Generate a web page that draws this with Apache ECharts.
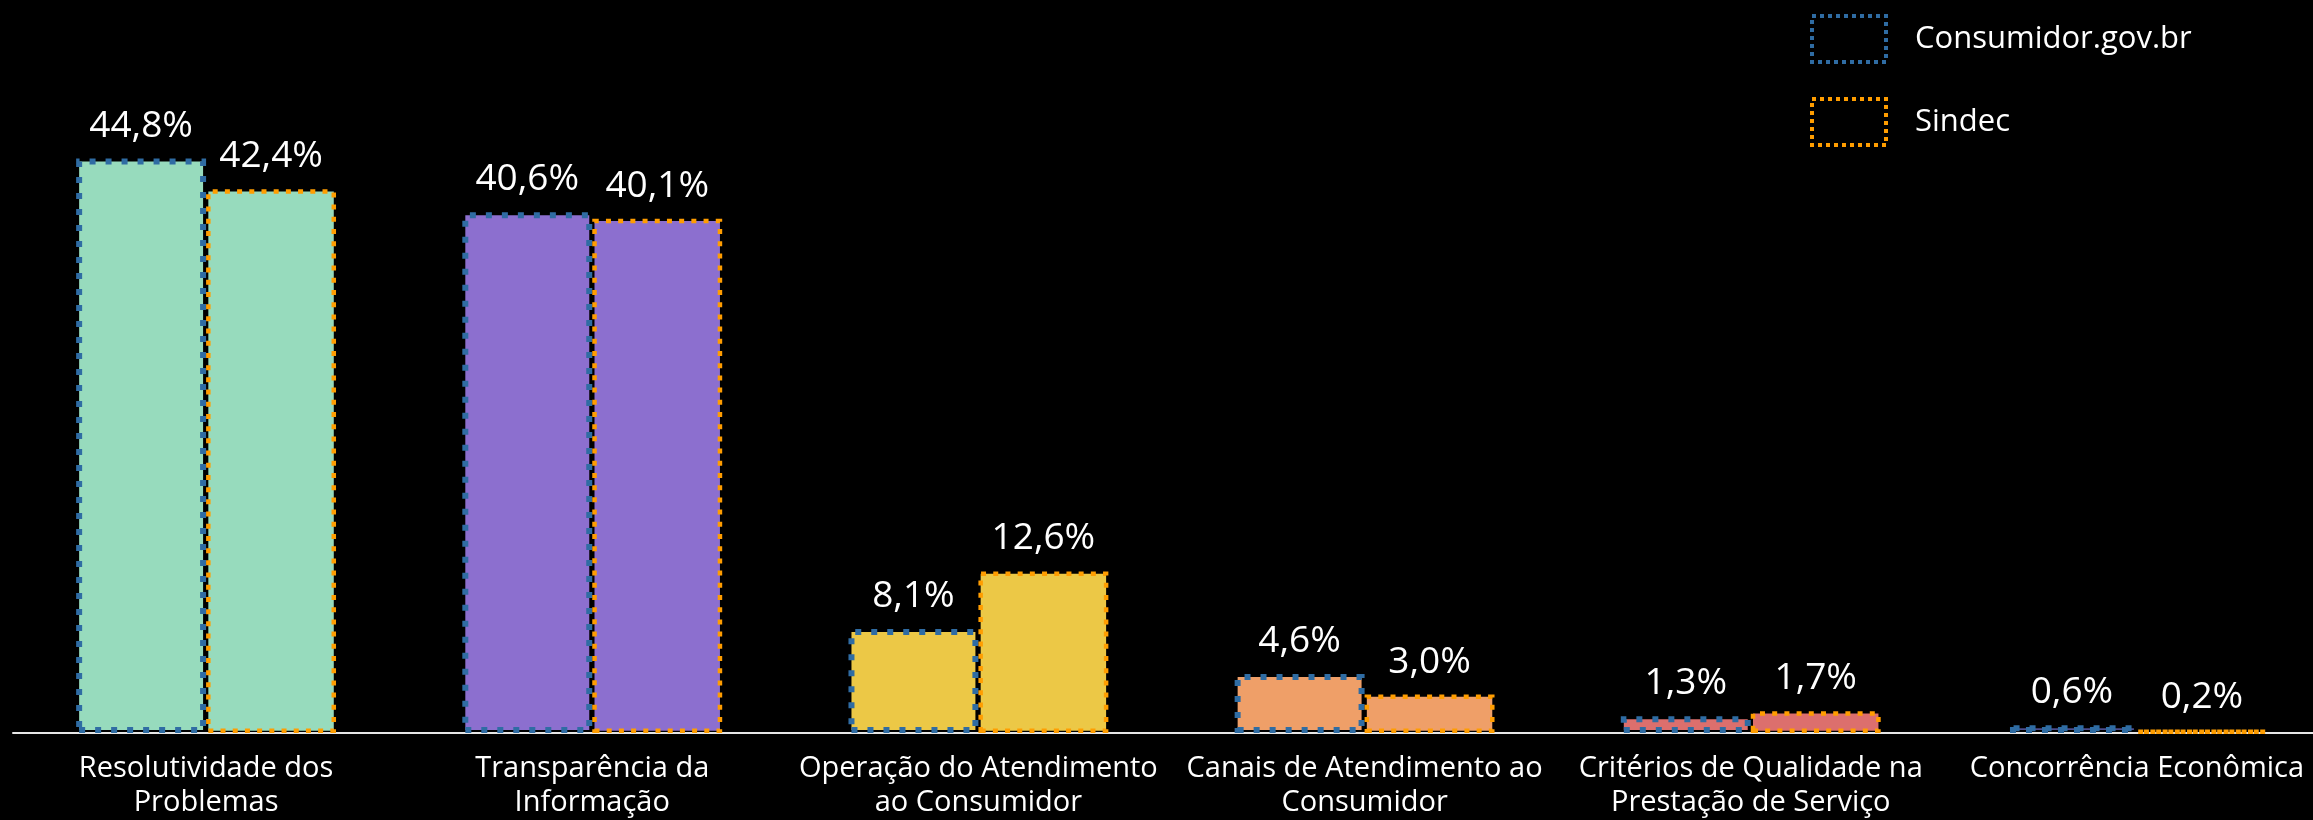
<!DOCTYPE html>
<html>
<head>
<meta charset="utf-8">
<script src="https://cdn.jsdelivr.net/npm/echarts/dist/echarts.min.js"></script>
<style>
  html, body { margin: 0; padding: 0; background: #000; overflow: hidden; }
  /* a bit wider than the window: the last category runs past the right edge */
  #chart { width: 2330px; height: 820px; }
</style>
</head>
<body>
<div id="chart"></div>
<script>
var categories = [
  'Resolutividade dos\nProblemas',
  'Transparência da\nInformação',
  'Operação do Atendimento\nao Consumidor',
  'Canais de Atendimento ao\nConsumidor',
  'Critérios de Qualidade na\nPrestação de Serviço',
  'Concorrência Econômica'
];
var consumidor = [44.8, 40.6, 8.1, 4.6, 1.3, 0.6];
var sindec = [42.4, 40.1, 12.6, 3.0, 1.7, 0.2];
var fills = ['#97dbbd', '#8c6fcf', '#ecc846', '#ef9f68', '#dc6f6d', '#4c4d8e'];

var font = "'Open Sans', 'DejaVu Sans', sans-serif";

function pct(v) {
  return v.toFixed(1).replace('.', ',') + '%';
}

function barData(values) {
  return values.map(function (v, i) {
    return { value: v, itemStyle: { color: fills[i] } };
  });
}

var barLabel = {
  show: true,
  position: 'top',
  distance: 14,
  color: '#fff',
  fontFamily: font,
  fontSize: 37,
  formatter: function (p) { return pct(p.value); }
};

var myChart = echarts.init(document.getElementById('chart'));
myChart.setOption({
  backgroundColor: '#000',
  animation: false,
  legend: {
    orient: 'vertical',
    left: 1805,
    top: 9,
    itemWidth: 74,
    itemHeight: 46,
    itemGap: 33,
    icon: 'rect',
    textStyle: { color: '#fff', fontFamily: font, fontSize: 31, padding: [0, 0, 0, 24] },
    data: [
      { name: 'Consumidor.gov.br', itemStyle: { color: 'rgba(0,0,0,0)', borderColor: '#2f6ca3', borderWidth: 4, borderType: [4, 4] } },
      { name: 'Sindec', itemStyle: { color: 'rgba(0,0,0,0)', borderColor: '#ff9d00', borderWidth: 4, borderType: [4, 4] } }
    ]
  },
  grid: { left: 13, top: 2, right: 0, bottom: 87, containLabel: false },
  xAxis: {
    type: 'category',
    data: categories,
    axisLine: { lineStyle: { color: '#e6e6e6', width: 2 } },
    axisTick: { show: false },
    axisLabel: {
      color: '#fff',
      fontFamily: font,
      fontSize: 29,
      lineHeight: 34,
      margin: 19,
      interval: 0
    }
  },
  yAxis: {
    type: 'value',
    min: 0,
    max: 57,
    show: false,
    splitLine: { show: false }
  },
  series: [
    {
      name: 'Consumidor.gov.br',
      type: 'bar',
      barGap: '0%',
      barCategoryGap: '32.7%',
      itemStyle: { color: 'rgba(0,0,0,0)', borderColor: '#2f6ca3', borderWidth: 6, borderType: [6, 10] },
      label: barLabel,
      data: barData(consumidor)
    },
    {
      name: 'Sindec',
      type: 'bar',
      itemStyle: { color: 'rgba(0,0,0,0)', borderColor: '#ff9d00', borderWidth: 4.5, borderType: [5, 7.2] },
      label: barLabel,
      data: barData(sindec)
    }
  ]
});
</script>
</body>
</html>
